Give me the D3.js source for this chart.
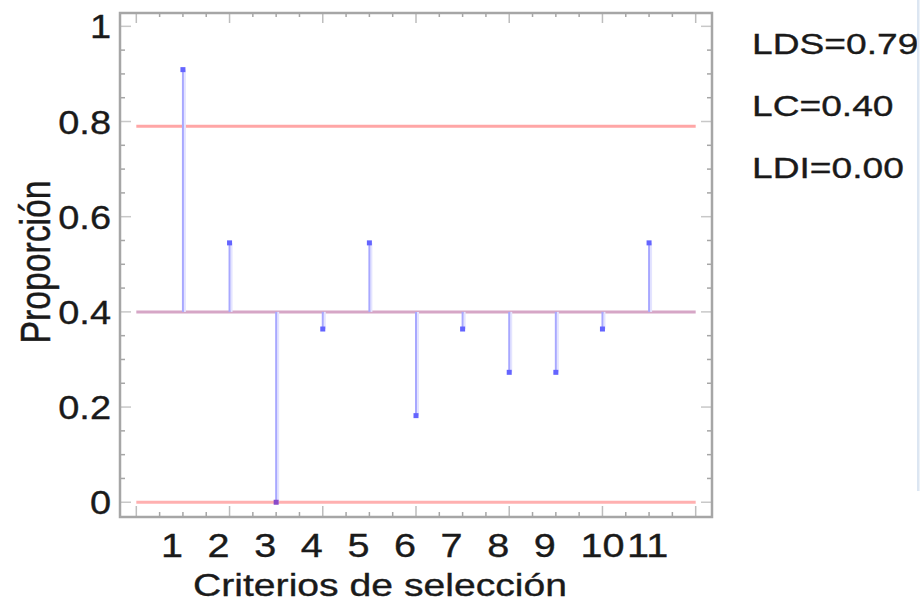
<!DOCTYPE html>
<html>
<head>
<meta charset="utf-8">
<script src="https://cdn.jsdelivr.net/npm/d3@7"></script>
<style>
  html, body { margin: 0; padding: 0; background: #fff; }
  svg { display: block; }
  text { font-family: "Liberation Sans", Arial, sans-serif; fill: #1a1a1a; stroke: #1a1a1a; stroke-width: 0.35px; }
</style>
</head>
<body>
<svg id="chart" width="923" height="602"></svg>
<script>
// Proportion per selection criterion, with the control limits
const criteria = ["1", "2", "3", "4", "5", "6", "7", "8", "9", "10", "11"];
const proportions = [0.909, 0.545, 0.000, 0.364, 0.545, 0.182, 0.364, 0.273, 0.273, 0.364, 0.545];
const limitNames = ["LDS", "LC", "LDI"];
const limitValues = [0.79, 0.40, 0.00];
const yTickValues = [0, 0.2, 0.4, 0.6, 0.8, 1];
const xTitle = "Criterios de selección";
const yTitle = "Proporción";

const svg = d3.select("#chart");
const padL = 120, padR = 712, padT = 13, padB = 517;

const x = d3.scaleLinear().domain([-0.35, 12.35]).range([padL, padR]);
const y = d3.scaleLinear().domain([-0.031, 1.028]).range([padB, padT]);
const center = limitValues[1];

const axisColor = "#a6a6a6";

// Tick marks on all four sides, pointing inward
const yMinor = d3.range(0, 1.0001, 0.05);
const xMinor = d3.range(0, 12.0001, 0.5);
const isMajorY = v => Math.abs(v * 5 - Math.round(v * 5)) < 1e-6;
const isMajorX = v => Math.abs(v / 2 - Math.round(v / 2)) < 1e-6;

const ticks = svg.append("g").attr("stroke-width", 1.5);
ticks.selectAll(".yl").data(yMinor).join("line").attr("class", "yl")
  .attr("x1", padL).attr("x2", d => padL + (isMajorY(d) ? 11 : 5))
  .attr("y1", d => y(d)).attr("y2", d => y(d))
  .attr("stroke", d => isMajorY(d) ? "#c8c8c8" : axisColor);
ticks.selectAll(".yr").data(yMinor).join("line").attr("class", "yr")
  .attr("x1", padR).attr("x2", d => padR - (isMajorY(d) ? 11 : 5))
  .attr("y1", d => y(d)).attr("y2", d => y(d))
  .attr("stroke", d => isMajorY(d) ? "#c8c8c8" : axisColor);
ticks.selectAll(".xb").data(xMinor).join("line").attr("class", "xb")
  .attr("x1", d => x(d)).attr("x2", d => x(d))
  .attr("y1", padB).attr("y2", d => padB - (isMajorX(d) ? 11 : 5))
  .attr("stroke", d => isMajorX(d) ? "#bdbdbd" : axisColor);
ticks.selectAll(".xt").data(xMinor).join("line").attr("class", "xt")
  .attr("x1", d => x(d)).attr("x2", d => x(d))
  .attr("y1", padT).attr("y2", d => padT + (isMajorX(d) ? 10 : 4))
  .attr("stroke", d => isMajorX(d) ? "#bdbdbd" : axisColor);

// Frame
svg.append("rect")
  .attr("x", padL).attr("y", padT)
  .attr("width", padR - padL).attr("height", padB - padT)
  .attr("fill", "none").attr("stroke", axisColor).attr("stroke-width", 2.5);

// Control limit lines
const limitColors = ["#ffa6a6", "#d6a6c6", "#ffb0b0"];
svg.append("g").selectAll("line").data(limitValues).join("line")
  .attr("x1", x(0)).attr("x2", x(12))
  .attr("y1", d => y(d)).attr("y2", d => y(d))
  .attr("stroke", (d, i) => limitColors[i])
  .attr("stroke-width", 3);

// Stems from the centre line to each proportion
const stems = svg.append("g");
stems.selectAll(".halo").data(proportions).join("line").attr("class", "halo")
  .attr("x1", (d, i) => x(i + 1) + 2).attr("x2", (d, i) => x(i + 1) + 2)
  .attr("y1", y(center)).attr("y2", d => y(d))
  .attr("stroke", "#e4e4ff").attr("stroke-width", 2);
stems.selectAll(".stem").data(proportions).join("line").attr("class", "stem")
  .attr("x1", (d, i) => x(i + 1)).attr("x2", (d, i) => x(i + 1))
  .attr("y1", y(center)).attr("y2", d => y(d))
  .attr("stroke", "#a8a8ff").attr("stroke-width", 2);
stems.selectAll("rect").data(proportions).join("rect")
  .attr("x", (d, i) => x(i + 1) - 2.5).attr("y", d => y(d) - 2.5)
  .attr("width", 5).attr("height", 5)
  .attr("fill", d => d === 0 ? "#8a4ac8" : "#6464ff");

// Horizontally widened text helper
function wideText(parent, str, px, py, size, sx, anchor) {
  const g = parent.append("g").attr("transform", `translate(${px},${py}) scale(${sx},1)`);
  return g.append("text").attr("x", 0).attr("y", 0)
    .attr("font-size", size).attr("text-anchor", anchor || "start").text(str);
}

// Y tick labels
const yLab = svg.append("g");
yTickValues.forEach(v => {
  wideText(yLab, d3.format("")(v), 111, y(v) + 12, 33, 1.15, "end");
});

// X tick labels
const xLab = svg.append("g");
criteria.forEach((c, i) => {
  wideText(xLab, c, x(i + 1) - 22, 557, 33, 1.2, "start");
});

// Axis titles
svg.append("text")
  .attr("x", 193).attr("y", 596)
  .attr("font-size", 32)
  .attr("textLength", 374).attr("lengthAdjust", "spacingAndGlyphs")
  .text(xTitle);

const yg = svg.append("g").attr("transform", "translate(50,262) scale(1.3,1)");
yg.append("text")
  .attr("transform", "rotate(-90)")
  .attr("text-anchor", "middle")
  .attr("font-size", 33)
  .attr("textLength", 163).attr("lengthAdjust", "spacingAndGlyphs")
  .text(yTitle);

// Limit legend
const leg = svg.append("g");
const legY = [54, 116, 178];
limitNames.forEach((n, i) => {
  wideText(leg, `${n}=${limitValues[i].toFixed(2)}`, 752, legY[i], 29.5, 1.26, "start");
});

// Pane divider at the right
svg.append("rect").attr("x", 917).attr("y", 0).attr("width", 2.5).attr("height", 491)
  .attr("fill", "#dce6f2");
</script>
</body>
</html>
